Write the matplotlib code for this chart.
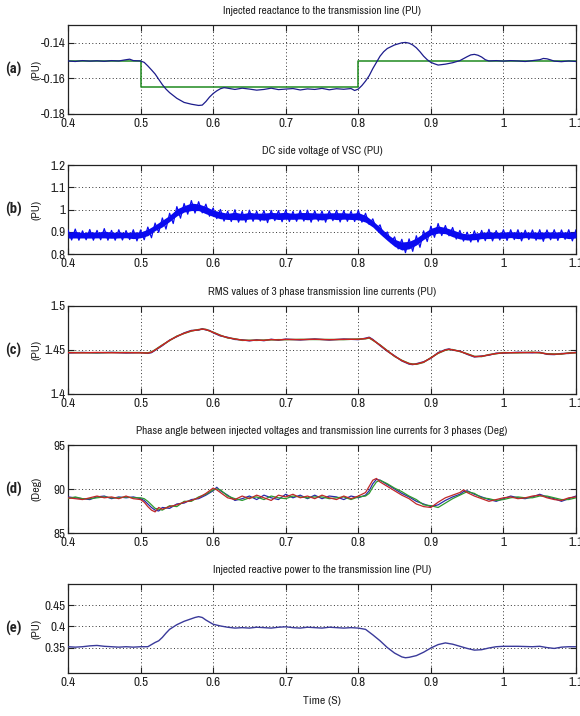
import matplotlib
matplotlib.use("Agg")
import matplotlib.pyplot as plt
import numpy as np

plt.rcParams['font.family'] = ['Archivo Narrow', 'DejaVu Sans']

# ---------------- data ----------------
xticks = [0.4, 0.5, 0.6, 0.7, 0.8, 0.9, 1.0, 1.1]
xtick_labels = ['0.4', '0.5', '0.6', '0.7', '0.8', '0.9', '1', '1.1']

titles = ["Injected reactance to the transmission line (PU)",
          "DC side voltage of VSC (PU)",
          "RMS values of 3 phase transmission line currents (PU)",
          "Phase angle between injected voltages and transmission line currents for 3 phases (Deg)",
          "Injected reactive power to the transmission line (PU)"]
panel_tags = ['(a)', '(b)', '(c)', '(d)', '(e)']
ylabels = ['(PU)', '(PU)', '(PU)', '(Deg)', '(PU)']

# (a) injected reactance
t_a = [0.400, 0.410, 0.420, 0.430, 0.440, 0.450, 0.460, 0.470, 0.480, 0.485, 0.490, 0.500, 0.505,
       0.510, 0.515, 0.520, 0.525, 0.530, 0.535, 0.540, 0.550, 0.560, 0.570, 0.580, 0.585, 0.590,
       0.595, 0.600, 0.605, 0.610, 0.615, 0.620, 0.630, 0.640, 0.650, 0.660, 0.670, 0.680, 0.690,
       0.700, 0.710, 0.720, 0.730, 0.740, 0.750, 0.760, 0.770, 0.780, 0.790, 0.795, 0.800, 0.805,
       0.810, 0.815, 0.820, 0.825, 0.830, 0.835, 0.840, 0.850, 0.860, 0.865, 0.870, 0.875, 0.880,
       0.885, 0.890, 0.895, 0.900, 0.905, 0.910, 0.920, 0.930, 0.940, 0.950, 0.955, 0.960, 0.965,
       0.970, 0.975, 0.980, 0.990, 1.000, 1.010, 1.020, 1.030, 1.040, 1.050, 1.055, 1.060, 1.065,
       1.070, 1.080, 1.090, 1.100]
x_meas = [-0.1502, -0.1505, -0.1500, -0.1503, -0.1501, -0.1504, -0.1500, -0.1502, -0.1495, -0.1492,
          -0.1500, -0.1502, -0.1510, -0.1530, -0.1552, -0.1575, -0.1605, -0.1635, -0.1660, -0.1680,
          -0.1712, -0.1735, -0.1745, -0.1752, -0.1750, -0.1730, -0.1705, -0.1685, -0.1670, -0.1658,
          -0.1652, -0.1655, -0.1662, -0.1655, -0.1660, -0.1666, -0.1662, -0.1655, -0.1663, -0.1660,
          -0.1657, -0.1665, -0.1659, -0.1662, -0.1656, -0.1664, -0.1658, -0.1661, -0.1657, -0.1668,
          -0.1660, -0.1640, -0.1615, -0.1585, -0.1545, -0.1510, -0.1475, -0.1450, -0.1432, -0.1412,
          -0.1400, -0.1398, -0.1402, -0.1412, -0.1428, -0.1450, -0.1475, -0.1495, -0.1510, -0.1518,
          -0.1525, -0.1520, -0.1512, -0.1500, -0.1478, -0.1468, -0.1465, -0.1470, -0.1480, -0.1495,
          -0.1502, -0.1500, -0.1503, -0.1500, -0.1502, -0.1505, -0.1500, -0.1495, -0.1488, -0.1490,
          -0.1496, -0.1503, -0.1506, -0.1502, -0.1505]
t_ref = [0.4, 0.5, 0.8, 1.1]
x_ref = [-0.150, -0.165, -0.150, -0.150]

# (b) DC side voltage: band centre and half-width of the ripple
t_b = [0.40, 0.41, 0.42, 0.43, 0.44, 0.45, 0.46, 0.47, 0.48, 0.49, 0.50, 0.51, 0.52, 0.53, 0.54,
       0.55, 0.56, 0.57, 0.58, 0.59, 0.60, 0.61, 0.62, 0.63, 0.64, 0.65, 0.66, 0.67, 0.68, 0.69,
       0.70, 0.71, 0.72, 0.73, 0.74, 0.75, 0.76, 0.77, 0.78, 0.79, 0.80, 0.81, 0.82, 0.83, 0.84,
       0.85, 0.86, 0.87, 0.88, 0.89, 0.90, 0.91, 0.92, 0.93, 0.94, 0.95, 0.96, 0.97, 0.98, 0.99,
       1.00, 1.01, 1.02, 1.03, 1.04, 1.05, 1.06, 1.07, 1.08, 1.09, 1.10]
vdc_mid = [0.885, 0.887, 0.884, 0.886, 0.885, 0.888, 0.884, 0.886, 0.885, 0.884, 0.886, 0.897,
           0.918, 0.937, 0.960, 0.987, 1.003, 1.012, 1.010, 0.997, 0.983, 0.974, 0.969, 0.971,
           0.967, 0.972, 0.970, 0.968, 0.973, 0.970, 0.972, 0.969, 0.972, 0.970, 0.971, 0.968,
           0.972, 0.970, 0.971, 0.969, 0.970, 0.958, 0.935, 0.905, 0.875, 0.850, 0.836, 0.840,
           0.856, 0.880, 0.900, 0.910, 0.905, 0.893, 0.882, 0.876, 0.879, 0.883, 0.885, 0.884,
           0.885, 0.887, 0.884, 0.886, 0.885, 0.883, 0.886, 0.885, 0.887, 0.884, 0.886]
vdc_half = [0.022, 0.025, 0.020, 0.024, 0.021, 0.026, 0.022, 0.023, 0.020, 0.025, 0.022, 0.024,
            0.021, 0.025, 0.023, 0.026, 0.024, 0.028, 0.025, 0.027, 0.024, 0.026, 0.023, 0.028,
            0.024, 0.025, 0.022, 0.027, 0.023, 0.025, 0.026, 0.022, 0.024, 0.027, 0.023, 0.025,
            0.022, 0.026, 0.024, 0.023, 0.027, 0.025, 0.023, 0.026, 0.024, 0.027, 0.030, 0.028,
            0.026, 0.024, 0.025, 0.027, 0.023, 0.026, 0.024, 0.022, 0.025, 0.023, 0.026, 0.021,
            0.024, 0.022, 0.025, 0.021, 0.023, 0.026, 0.022, 0.024, 0.021, 0.025, 0.023]

# (c) RMS currents, three phases
t_c = [0.40, 0.42, 0.44, 0.46, 0.48, 0.50, 0.51, 0.515, 0.52, 0.53, 0.54, 0.55, 0.56, 0.57, 0.58,
       0.585, 0.59, 0.595, 0.60, 0.61, 0.62, 0.63, 0.64, 0.65, 0.66, 0.67, 0.68, 0.69, 0.70, 0.72,
       0.74, 0.76, 0.78, 0.80, 0.81, 0.815, 0.82, 0.83, 0.84, 0.85, 0.86, 0.87, 0.875, 0.88, 0.89,
       0.90, 0.91, 0.92, 0.925, 0.93, 0.94, 0.95, 0.96, 0.97, 0.98, 0.99, 1.00, 1.02, 1.04, 1.05,
       1.06, 1.07, 1.08, 1.09, 1.10]
irms_a = [1.4470, 1.4468, 1.4472, 1.4469, 1.4470, 1.4468, 1.4465, 1.4475, 1.4500, 1.4555, 1.4610,
          1.4655, 1.4690, 1.4718, 1.4730, 1.4738, 1.4732, 1.4718, 1.4700, 1.4665, 1.4640, 1.4625,
          1.4612, 1.4608, 1.4612, 1.4610, 1.4618, 1.4615, 1.4620, 1.4618, 1.4622, 1.4617, 1.4621,
          1.4622, 1.4630, 1.4640, 1.4615, 1.4555, 1.4490, 1.4430, 1.4380, 1.4345, 1.4338, 1.4340,
          1.4362, 1.4410, 1.4465, 1.4500, 1.4508, 1.4502, 1.4485, 1.4455, 1.4425, 1.4428, 1.4445,
          1.4460, 1.4468, 1.4470, 1.4472, 1.4470, 1.4455, 1.4452, 1.4456, 1.4465, 1.4470]
irms_b = [1.4466, 1.4472, 1.4467, 1.4473, 1.4466, 1.4471, 1.4462, 1.4470, 1.4496, 1.4550, 1.4612,
          1.4652, 1.4694, 1.4722, 1.4726, 1.4742, 1.4728, 1.4722, 1.4696, 1.4660, 1.4644, 1.4620,
          1.4616, 1.4604, 1.4616, 1.4606, 1.4622, 1.4611, 1.4624, 1.4614, 1.4626, 1.4613, 1.4625,
          1.4618, 1.4634, 1.4645, 1.4620, 1.4550, 1.4486, 1.4434, 1.4376, 1.4340, 1.4334, 1.4344,
          1.4366, 1.4406, 1.4470, 1.4504, 1.4512, 1.4498, 1.4489, 1.4451, 1.4421, 1.4432, 1.4441,
          1.4464, 1.4464, 1.4474, 1.4468, 1.4474, 1.4451, 1.4448, 1.4460, 1.4461, 1.4474]
irms_c = [1.4472, 1.4470, 1.4469, 1.4471, 1.4472, 1.4470, 1.4468, 1.4478, 1.4503, 1.4558, 1.4607,
          1.4658, 1.4688, 1.4715, 1.4733, 1.4735, 1.4735, 1.4715, 1.4703, 1.4668, 1.4637, 1.4628,
          1.4609, 1.4611, 1.4609, 1.4613, 1.4615, 1.4618, 1.4617, 1.4621, 1.4619, 1.4620, 1.4618,
          1.4625, 1.4627, 1.4636, 1.4611, 1.4558, 1.4493, 1.4427, 1.4383, 1.4348, 1.4341, 1.4337,
          1.4359, 1.4413, 1.4462, 1.4497, 1.4505, 1.4505, 1.4482, 1.4458, 1.4428, 1.4425, 1.4448,
          1.4457, 1.4471, 1.4467, 1.4475, 1.4467, 1.4458, 1.4455, 1.4453, 1.4468, 1.4467]

# (d) phase angles, three phases
t_d = [0.40, 0.41, 0.42, 0.43, 0.44, 0.45, 0.46, 0.47, 0.48, 0.49, 0.50, 0.505, 0.51, 0.515, 0.52,
       0.525, 0.53, 0.54, 0.55, 0.56, 0.57, 0.58, 0.59, 0.60, 0.605, 0.61, 0.62, 0.63, 0.64, 0.65,
       0.66, 0.67, 0.68, 0.69, 0.70, 0.71, 0.72, 0.73, 0.74, 0.75, 0.76, 0.77, 0.78, 0.79, 0.80,
       0.81, 0.815, 0.82, 0.825, 0.83, 0.84, 0.85, 0.86, 0.87, 0.88, 0.89, 0.90, 0.91, 0.92, 0.93,
       0.94, 0.945, 0.95, 0.96, 0.97, 0.98, 0.99, 1.00, 1.01, 1.02, 1.03, 1.04, 1.05, 1.06, 1.07,
       1.08, 1.09, 1.10]
ang_a = [89.0, 88.9, 88.8, 89.0, 89.2, 89.0, 89.1, 88.9, 89.2, 88.9, 88.8, 88.5, 88.0, 87.6, 87.4,
         87.9, 87.7, 88.0, 88.2, 88.5, 88.7, 89.0, 89.5, 90.1, 89.9, 89.6, 89.0, 88.8, 89.2, 88.9,
         89.3, 89.0, 88.7, 89.3, 89.1, 89.4, 89.0, 89.2, 88.9, 89.3, 89.0, 88.8, 89.2, 88.9, 89.2,
         89.6, 90.3, 91.0, 91.2, 90.8, 90.3, 89.8, 89.3, 88.9, 88.3, 88.0, 87.9, 88.5, 89.0, 89.3,
         89.6, 89.9, 89.6, 89.2, 88.9, 88.6, 88.8, 89.0, 89.1, 88.9, 89.0, 89.2, 89.3, 89.0, 88.8,
         88.7, 89.0, 89.1]
ang_b = [89.1, 89.0, 88.9, 88.8, 89.1, 89.2, 88.9, 89.1, 89.0, 89.1, 88.9, 88.7, 88.3, 87.9, 87.6,
         87.5, 87.9, 87.8, 88.3, 88.4, 88.8, 88.9, 89.3, 89.8, 90.2, 89.8, 89.3, 88.7, 88.9, 89.2,
         88.8, 89.3, 89.0, 88.8, 89.4, 89.0, 89.3, 88.9, 89.3, 88.9, 89.2, 89.1, 88.8, 89.2, 89.0,
         89.3, 89.8, 90.6, 91.1, 91.0, 90.5, 90.0, 89.5, 89.1, 88.6, 88.3, 88.0, 88.2, 88.7, 89.1,
         89.4, 89.7, 89.8, 89.4, 89.1, 88.8, 88.6, 88.9, 89.2, 89.0, 88.9, 89.1, 89.4, 89.1, 88.9,
         88.6, 88.9, 89.2]
ang_c = [88.9, 89.1, 88.9, 88.9, 89.0, 89.1, 89.0, 89.0, 89.1, 89.0, 89.0, 88.9, 88.6, 88.2, 87.8,
         87.7, 87.6, 88.1, 88.0, 88.6, 88.6, 89.1, 89.4, 89.9, 90.0, 89.9, 89.2, 88.9, 88.7, 89.0,
         89.1, 88.8, 89.2, 89.0, 88.9, 89.2, 89.1, 89.0, 89.1, 89.1, 88.9, 89.0, 89.1, 88.8, 89.1,
         89.2, 89.5, 90.2, 90.8, 91.0, 90.6, 90.1, 89.7, 89.2, 88.8, 88.2, 88.1, 87.9, 88.4, 88.9,
         89.3, 89.5, 89.7, 89.5, 89.0, 88.9, 88.7, 88.8, 89.0, 89.1, 89.0, 89.0, 89.2, 89.2, 89.0,
         88.8, 88.8, 89.0]

# (e) injected reactive power
t_e = [0.40, 0.41, 0.42, 0.43, 0.44, 0.45, 0.46, 0.47, 0.48, 0.49, 0.50, 0.51, 0.515, 0.52, 0.525,
       0.53, 0.535, 0.54, 0.55, 0.56, 0.57, 0.575, 0.58, 0.585, 0.59, 0.60, 0.61, 0.62, 0.63, 0.64,
       0.65, 0.66, 0.67, 0.68, 0.69, 0.70, 0.71, 0.72, 0.73, 0.74, 0.75, 0.76, 0.77, 0.78, 0.79,
       0.80, 0.81, 0.82, 0.83, 0.84, 0.85, 0.86, 0.865, 0.87, 0.88, 0.89, 0.90, 0.91, 0.92, 0.93,
       0.94, 0.95, 0.96, 0.97, 0.98, 0.99, 1.00, 1.02, 1.04, 1.05, 1.06, 1.07, 1.08, 1.09, 1.10]
q_inj = [0.352, 0.351, 0.352, 0.354, 0.355, 0.353, 0.352, 0.351, 0.352, 0.351, 0.352, 0.352, 0.357,
         0.362, 0.366, 0.374, 0.384, 0.393, 0.404, 0.412, 0.418, 0.421, 0.423, 0.421, 0.415, 0.405,
         0.401, 0.398, 0.396, 0.397, 0.396, 0.398, 0.397, 0.396, 0.398, 0.399, 0.397, 0.396, 0.398,
         0.397, 0.396, 0.398, 0.397, 0.396, 0.397, 0.396, 0.393, 0.380, 0.366, 0.350, 0.337, 0.328,
         0.326, 0.327, 0.331, 0.339, 0.349, 0.357, 0.361, 0.358, 0.353, 0.348, 0.344, 0.345, 0.349,
         0.352, 0.353, 0.353, 0.352, 0.353, 0.350, 0.348, 0.351, 0.352, 0.352]

ylims = [(-0.18, -0.13), (0.8, 1.2), (1.4, 1.5), (85, 95), (0.29, 0.5)]
yticks = [[-0.18, -0.16, -0.14], [0.8, 0.9, 1.0, 1.1, 1.2], [1.4, 1.45, 1.5], [85, 90, 95],
          [0.35, 0.4, 0.45]]
ytick_labels = [['-0.18', '-0.16', '-0.14'], ['0.8', '0.9', '1', '1.1', '1.2'],
                ['1.4', '1.45', '1.5'], ['85', '90', '95'], ['0.35', '0.4', '0.45']]

# ---------------- figure ----------------
W, H = 580, 716
fig = plt.figure(figsize=(W / 100, H / 100), dpi=100)
boxes_px = [(25, 114), (165, 254), (306, 394), (445, 533), (584, 673)]
left_px, right_px = 68, 576
axes = []
for (top, bot) in boxes_px:
    ax = fig.add_axes([left_px / W, 1 - bot / H, (right_px - left_px) / W, (bot - top) / H])
    axes.append(ax)

navy = '#1c1c8c'
blue = '#0a0af0'
txtc = '#222222'

ax = axes[0]
ax.step(t_ref, x_ref, where='post', color='#1f8a1f', lw=1.1, zorder=2)
ax.plot(t_a, x_meas, color=navy, lw=0.9, zorder=3)

ax = axes[1]
mid = np.array(vdc_mid)
half = np.array(vdc_half)
# solid core of the ripple band
ax.fill_between(t_b, mid - 0.6 * half, mid + 0.6 * half, color=blue, lw=0, zorder=3)
# ripple: trace alternating between the upper and lower envelope
tb = np.array(t_b)
t_zig = np.ravel(np.column_stack([tb, tb + 0.005]))
v_zig = np.ravel(np.column_stack([mid + half, mid - half]))
ax.plot(t_zig, v_zig, color=blue, lw=0.9, zorder=3)

ax = axes[2]
ax.plot(t_c, irms_b, color='#2a2a9a', lw=1.0, zorder=3)
ax.plot(t_c, irms_c, color='#2e9a2e', lw=1.0, zorder=3)
ax.plot(t_c, irms_a, color='#d02020', lw=1.0, zorder=3)

ax = axes[3]
ax.plot(t_d, ang_b, color='#2a2aa8', lw=0.9, zorder=3)
ax.plot(t_d, ang_c, color='#2e9a2e', lw=0.9, zorder=3)
ax.plot(t_d, ang_a, color='#c02828', lw=0.9, zorder=3)

ax = axes[4]
ax.plot(t_e, q_inj, color='#3a3a9a', lw=1.0, zorder=3)

for i, ax in enumerate(axes):
    ax.set_xlim(0.4, 1.1)
    ax.set_ylim(*ylims[i])
    ax.set_xticks(xticks)
    ax.set_xticklabels(xtick_labels)
    ax.set_yticks(yticks[i])
    ax.set_yticklabels(ytick_labels[i])
    ax.tick_params(direction='in', length=4, width=0.8, top=True, right=True,
                   labelsize=9.5, pad=2, colors=txtc)
    ax.tick_params(axis='x', pad=3)
    ax.grid(True, linestyle=(0, (1, 2.5)), color='#333333', lw=0.7)
    for s in ax.spines.values():
        s.set_color(txtc)
        s.set_linewidth(0.9)
    ax.set_title(titles[i], fontsize=8.2, pad=8, color=txtc)
    ax.set_ylabel(ylabels[i], fontsize=8.5, color=txtc)
    ax.yaxis.set_label_coords(-0.052, 0.5)
    fig.text(13 / W, 1 - ((boxes_px[i][0] + boxes_px[i][1]) / 2) / H, panel_tags[i],
             fontsize=10.5, fontweight='bold', ha='center', va='center', color=txtc,
             family=['Roboto Condensed', 'Archivo Narrow', 'DejaVu Sans'])

axes[4].set_xlabel('Time (S)', fontsize=8.5, labelpad=6, color=txtc)

fig.savefig('out.png', dpi=100, facecolor='white')
